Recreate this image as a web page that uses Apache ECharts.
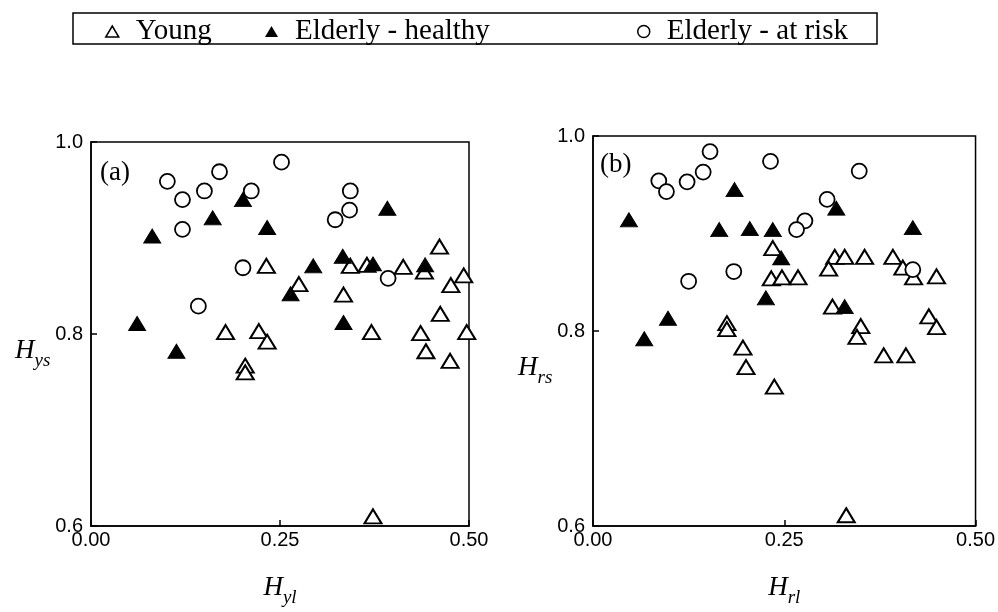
<!DOCTYPE html>
<html>
<head>
<meta charset="utf-8">
<script src="https://cdn.jsdelivr.net/npm/echarts@6/dist/echarts.min.js"></script>
<style>html,body{margin:0;padding:0;background:#fff;}#c{width:998px;height:612px;}</style>
</head>
<body>
<div id="c"></div>
<script>
// ---- data ----
var seriesNames = ['Young', 'Elderly - healthy', 'Elderly - at risk'];
var xTicks = [0.00, 0.25, 0.50];
var yTicks = [0.6, 0.8, 1.0];

// panel (a): H_yl (x) vs H_ys (y)
var youngA = [[0.232,0.871],[0.178,0.802],[0.222,0.803],[0.233,0.792],[0.204,0.767],[0.204,0.760],
  [0.275,0.852],[0.334,0.841],[0.343,0.871],[0.365,0.872],[0.413,0.870],[0.441,0.865],[0.461,0.891],
  [0.493,0.861],[0.476,0.851],[0.371,0.802],[0.462,0.821],[0.436,0.801],[0.497,0.802],[0.443,0.782],
  [0.475,0.772],[0.373,0.610]];
var healthyA = [[0.201,0.940],[0.161,0.921],[0.233,0.911],[0.081,0.902],[0.061,0.811],[0.113,0.782],
  [0.392,0.931],[0.333,0.881],[0.294,0.871],[0.373,0.873],[0.442,0.872],[0.264,0.842],[0.334,0.812]];
var riskA = [[0.252,0.979],[0.170,0.969],[0.101,0.959],[0.150,0.949],[0.121,0.940],[0.212,0.949],
  [0.121,0.909],[0.201,0.869],[0.142,0.829],[0.343,0.949],[0.342,0.929],[0.323,0.919],[0.393,0.858]];

// panel (b): H_rl (x) vs H_rs (y)
var youngB = [[0.235,0.885],[0.233,0.854],[0.247,0.855],[0.268,0.855],[0.175,0.808],[0.175,0.802],
  [0.196,0.783],[0.200,0.763],[0.237,0.743],[0.316,0.876],[0.329,0.876],[0.355,0.876],[0.308,0.864],
  [0.392,0.876],[0.405,0.865],[0.419,0.855],[0.449,0.856],[0.313,0.825],[0.350,0.805],[0.345,0.794],
  [0.380,0.775],[0.409,0.775],[0.439,0.815],[0.449,0.804],[0.331,0.611]];
var healthyB = [[0.185,0.945],[0.047,0.914],[0.165,0.904],[0.205,0.905],[0.235,0.904],[0.246,0.875],
  [0.226,0.834],[0.098,0.813],[0.067,0.792],[0.318,0.926],[0.418,0.906],[0.329,0.825]];
var riskB = [[0.153,0.984],[0.232,0.974],[0.144,0.963],[0.123,0.953],[0.086,0.954],[0.096,0.943],
  [0.184,0.861],[0.125,0.851],[0.277,0.913],[0.266,0.904],[0.348,0.964],[0.306,0.935],[0.418,0.863]];

// ---- styles ----
var serif = 'Liberation Serif';
var sans = 'Liberation Sans';
var styles = [
  {symbol:'triangle', symbolSize:[17,14], itemStyle:{color:'#fff', borderColor:'#000', borderWidth:2, opacity:1}},
  {symbol:'triangle', symbolSize:[17,14], itemStyle:{color:'#000', borderColor:'#000', borderWidth:1, opacity:1}},
  {symbol:'circle', symbolSize:15, itemStyle:{color:'#fff', borderColor:'#000', borderWidth:1.8, opacity:1}}
];
var dataA = [youngA, healthyA, riskA];
var dataB = [youngB, healthyB, riskB];

function richName() {
  return {
    h:{fontFamily:serif, fontStyle:'italic', fontSize:27, color:'#000', verticalAlign:'top'},
    s:{fontFamily:serif, fontStyle:'italic', fontSize:19, color:'#000', verticalAlign:'top', padding:[14,0,0,0]}
  };
}
function xAxisCfg(idx, sub) {
  return {
    type:'value', gridIndex: idx, min: xTicks[0], max: xTicks[xTicks.length-1], interval: 0.25,
    axisLine:{show:true, lineStyle:{color:'#000', width:1.5}},
    axisTick:{show:true, inside:true, length:6, lineStyle:{color:'#000', width:1.5}},
    axisLabel:{color:'#000', fontFamily:sans, fontSize:20, margin:4, formatter:function(v){return v.toFixed(2);}},
    splitLine:{show:false},
    name:'{h|H}{s|' + sub + '}', nameLocation:'middle', nameGap:48,
    nameTextStyle:{rich:richName()}
  };
}
function yAxisCfg(idx, sub, padTop) {
  return {
    type:'value', gridIndex: idx, min: yTicks[0], max: yTicks[yTicks.length-1], interval: 0.2,
    axisLine:{show:true, lineStyle:{color:'#000', width:1.5}},
    axisTick:{show:true, inside:true, length:6, lineStyle:{color:'#000', width:1.5}},
    axisLabel:{color:'#000', fontFamily:sans, fontSize:20, margin:8, formatter:function(v){return v.toFixed(1);}},
    splitLine:{show:false},
    name:'{h|H}{s|' + sub + '}', nameLocation:'middle', nameRotate:0, nameGap:28,
    nameTextStyle:{align:'right', padding:[padTop,0,0,0], rich:richName()}
  };
}

var series = [];
[dataA, dataB].forEach(function(set, g){
  set.forEach(function(d, i){
    series.push({
      type:'scatter', name: seriesNames[i], xAxisIndex:g, yAxisIndex:g,
      symbol: styles[i].symbol, symbolSize: styles[i].symbolSize,
      itemStyle: styles[i].itemStyle, data: d, clip:false,
      emphasis:{disabled:true}
    });
  });
});

var legendLeft = [100, 260, 632];
var legends = seriesNames.map(function(n, i){
  return {
    data:[n], left: legendLeft[i], top: 12, orient:'horizontal',
    itemWidth: i===2 ? 12 : 13, itemHeight: i===2 ? 12 : 11, selectedMode:false,
    itemStyle:{borderWidth: i===1 ? 0 : 1.5, opacity:1},
    textStyle:{fontFamily:serif, fontSize:29, color:'#000', padding:[0,0,0,12]}
  };
});

var chart = echarts.init(document.getElementById('c'), null, {renderer:'canvas'});
chart.setOption({
  animation:false,
  backgroundColor:'#fff',
  legend: legends,
  grid:[
    {left:91, top:142, width:378, height:393, show:true, borderColor:'#000', borderWidth:1.5, backgroundColor:'transparent'},
    {left:593, top:136, width:385, height:391, show:true, borderColor:'#000', borderWidth:1.5, backgroundColor:'transparent'}
  ],
  xAxis:[xAxisCfg(0,'yl'), xAxisCfg(1,'rl')],
  yAxis:[yAxisCfg(0,'ys',40), yAxisCfg(1,'rs',80)],
  graphic:[
    {type:'rect', shape:{x:73, y:13, width:804, height:31}, style:{fill:'none', stroke:'#000', lineWidth:1.5}, z:-1},
    {type:'text', left:100, top:159, style:{text:'(a)', font:'27px "Liberation Serif"', fill:'#000'}},
    {type:'text', left:600, top:151, style:{text:'(b)', font:'27px "Liberation Serif"', fill:'#000'}}
  ],
  series: series
});
</script>
</body>
</html>
